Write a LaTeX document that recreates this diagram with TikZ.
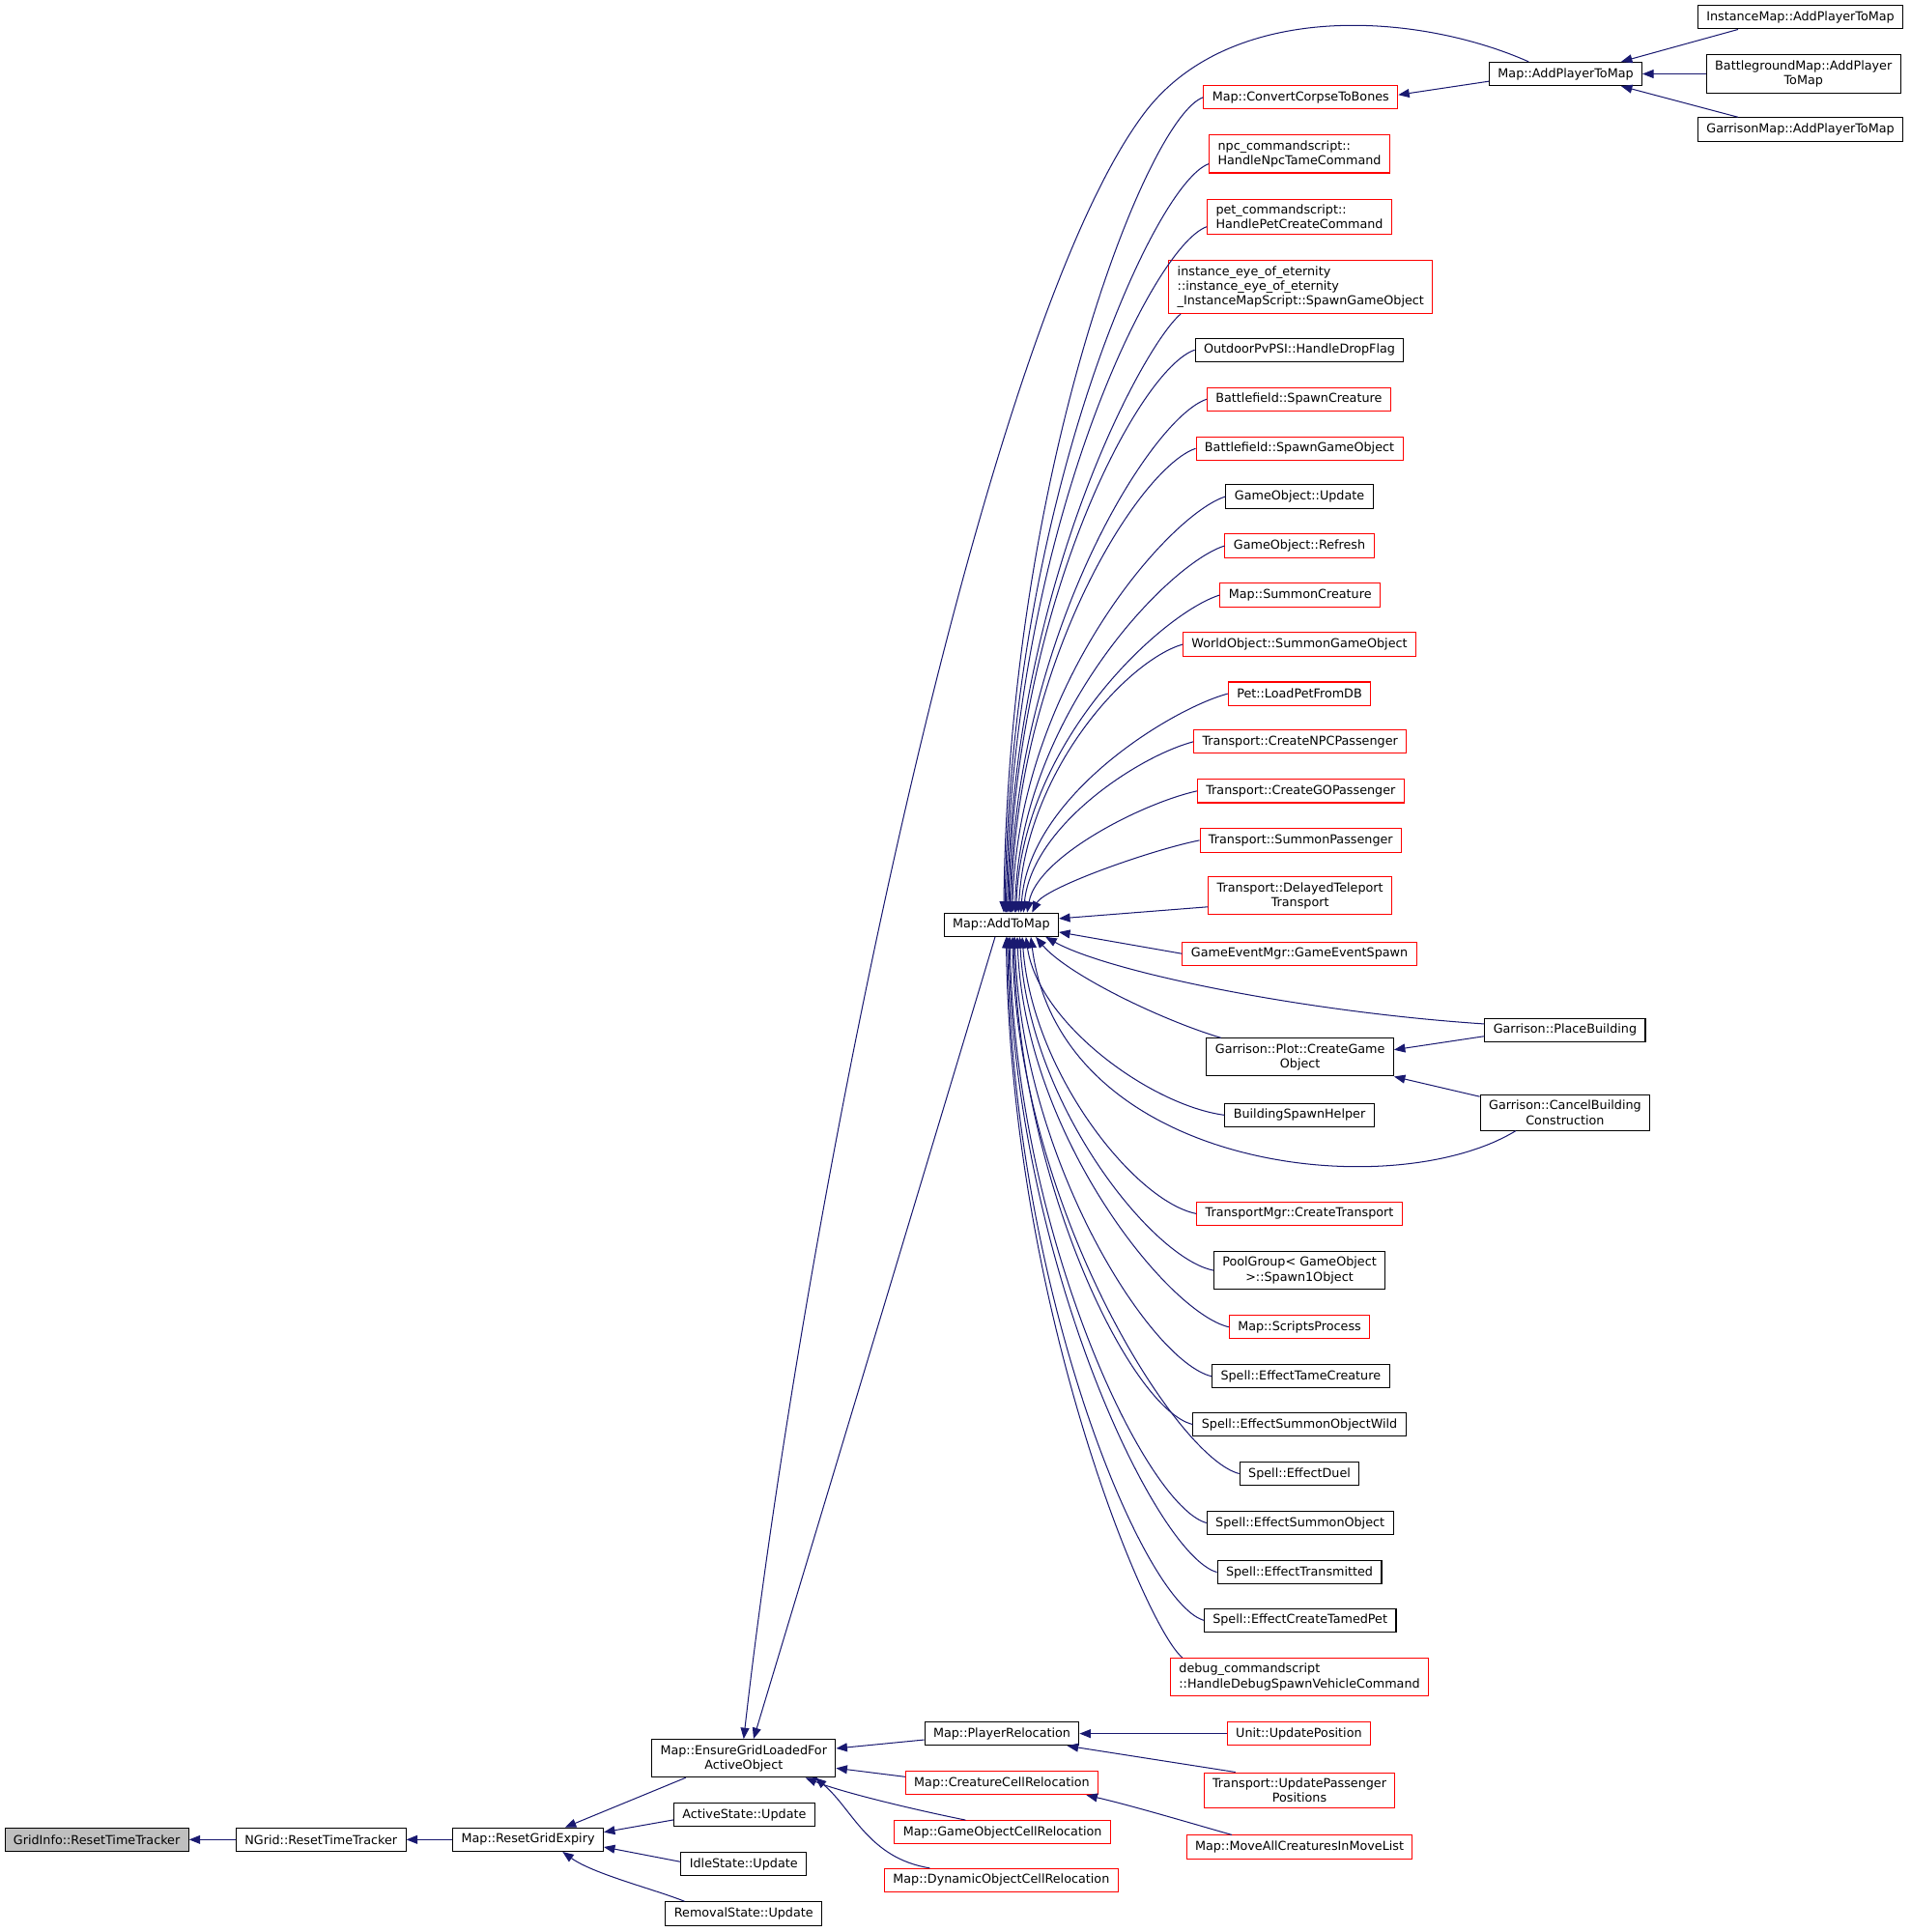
\documentclass[tikz,border=0pt]{standalone}
\usepackage{fontspec}
\setmainfont{DejaVu Sans}
\usetikzlibrary{arrows.meta}
\definecolor{edgecol}{HTML}{191970}
\definecolor{redc}{HTML}{FF0000}
\definecolor{grayfill}{HTML}{BFBFBF}
\begin{document}
\begin{tikzpicture}[x=1pt,y=1pt,
  box/.style={draw=black, line width=0.8pt, fill=white, inner xsep=7pt, inner ysep=4.5pt,
    minimum height=19pt, font=\fontsize{10}{12}\selectfont, align=center},
  rbox/.style={box, draw=redc},
  lft/.style={align=left},
  e/.style={draw=edgecol, line width=0.8pt, {Triangle[length=9pt,width=7pt]}-}]
\useasboundingbox (0,0) rectangle (1550,-1568);

% left chain
\node[box, fill=grayfill] (gridinfo) at (78.5,-1493) {GridInfo::ResetTimeTracker};
\node[box] (ngrid) at (260.5,-1493) {NGrid::ResetTimeTracker};
\node[box] (reset) at (428.5,-1493) {Map::ResetGridExpiry};
\node[box] (ensure) at (603.5,-1427) {Map::EnsureGridLoadedFor\\ActiveObject};
\node[box] (active) at (604,-1473) {ActiveState::Update};
\node[box] (idle) at (603.5,-1513) {IdleState::Update};
\node[box] (removal) at (603.5,-1553) {RemovalState::Update};
% relocation
\node[box] (playerrel) at (813,-1407) {Map::PlayerRelocation};
\node[rbox] (creaturecell) at (813,-1447) {Map::CreatureCellRelocation};
\node[rbox] (gocell) at (813.5,-1487) {Map::GameObjectCellRelocation};
\node[rbox] (dyncell) at (812.5,-1526) {Map::DynamicObjectCellRelocation};
\node[rbox] (unitupd) at (1054,-1407) {Unit::UpdatePosition};
\node[rbox] (upp) at (1054.5,-1453) {Transport::UpdatePassenger\\Positions};
\node[rbox] (moveall) at (1054.5,-1499) {Map::MoveAllCreaturesInMoveList};
% hub
\node[box] (atm) at (812.5,-750.5) {Map::AddToMap};
% far right
\node[box] (apm) at (1270.5,-60) {Map::AddPlayerToMap};
\node[box] (instmap) at (1461,-14) {InstanceMap::AddPlayerToMap};
\node[box] (bgmap) at (1463.5,-60) {BattlegroundMap::AddPlayer\\ToMap};
\node[box] (garmap) at (1461,-105) {GarrisonMap::AddPlayerToMap};
\node[box] (place) at (1270,-836) {Garrison::PlaceBuilding};
\node[box] (cancel) at (1270,-903) {Garrison::CancelBuilding\\Construction};
% right column
\node[rbox] (convert) at (1055.5,-79) {Map::ConvertCorpseToBones};
\node[rbox, lft] (npc) at (1054.5,-125) {npc\_commandscript::\\HandleNpcTameCommand};
\node[rbox, lft] (pet) at (1054.5,-176) {pet\_commandscript::\\HandlePetCreateCommand};
\node[rbox, lft] (eye) at (1055.5,-233) {instance\_eye\_of\_eternity\\::instance\_eye\_of\_eternity\\\_InstanceMapScript::SpawnGameObject};
\node[box] (outdoor) at (1054.5,-284) {OutdoorPvPSI::HandleDropFlag};
\node[rbox] (bfcreature) at (1054,-324) {Battlefield::SpawnCreature};
\node[rbox] (bfgo) at (1054.5,-364) {Battlefield::SpawnGameObject};
\node[box] (goupdate) at (1054.5,-403) {GameObject::Update};
\node[rbox] (gorefresh) at (1054.5,-443) {GameObject::Refresh};
\node[rbox] (summoncr) at (1055,-483) {Map::SummonCreature};
\node[rbox] (worldobj) at (1054.5,-523) {WorldObject::SummonGameObject};
\node[rbox] (petload) at (1054.5,-563) {Pet::LoadPetFromDB};
\node[rbox] (npcpass) at (1055,-602) {Transport::CreateNPCPassenger};
\node[rbox] (gopass) at (1055.5,-642) {Transport::CreateGOPassenger};
\node[rbox] (sumpass) at (1055.5,-682) {Transport::SummonPassenger};
\node[rbox] (delayed) at (1055,-727) {Transport::DelayedTeleport\\Transport};
\node[rbox] (gameevent) at (1054.5,-774) {GameEventMgr::GameEventSpawn};
\node[box] (plot) at (1055,-858) {Garrison::Plot::CreateGame\\Object};
\node[box] (bsh) at (1054.5,-905) {BuildingSpawnHelper};
\node[rbox] (tmgr) at (1054.5,-985) {TransportMgr::CreateTransport};
\node[box] (pool) at (1054.5,-1031) {PoolGroup< GameObject\\ >::Spawn1Object};
\node[rbox] (scripts) at (1054.5,-1077) {Map::ScriptsProcess};
\node[box] (tame) at (1055.5,-1117) {Spell::EffectTameCreature};
\node[box] (wild) at (1054.5,-1156) {Spell::EffectSummonObjectWild};
\node[box] (duel) at (1054.5,-1196) {Spell::EffectDuel};
\node[box] (sumobj) at (1055,-1236) {Spell::EffectSummonObject};
\node[box] (transm) at (1054.5,-1276) {Spell::EffectTransmitted};
\node[box] (tamedpet) at (1055,-1315) {Spell::EffectCreateTamedPet};
\node[rbox, lft] (debug) at (1054.5,-1361) {debug\_commandscript\\::HandleDebugSpawnVehicleCommand};

% left chain edges
\draw[e] (gridinfo.east) -- (ngrid.west);
\draw[e] (ngrid.east) -- (reset.west);
\draw[e] ([xshift=30]reset.north) -- ([xshift=-47]ensure.south);
\draw[e] ([yshift=6]reset.east) -- ([yshift=-4]active.west);
\draw[e] ([yshift=-6]reset.east) -- ([yshift=2]idle.west);
\draw[e] ([xshift=28]reset.south) .. controls +(25,-18) and +(-25,10) .. ([xshift=-48]removal.north);

% relocation edges
\draw[e] ([yshift=8]ensure.east) -- ([yshift=-5]playerrel.west);
\draw[e] ([yshift=-8]ensure.east) -- ([yshift=5]creaturecell.west);
\draw[e] ([xshift=50]ensure.south) .. controls +(30,-12) and +(-40,8) .. ([xshift=-30]gocell.north);
\draw[e] ([xshift=58]ensure.south) .. controls +(30,-25) and +(-50,8) .. ([xshift=-58]dyncell.north);
\draw[e] (playerrel.east) -- (unitupd.west);
\draw[e] ([xshift=-10]playerrel.south east) -- ([xshift=-52]upp.north);
\draw[e] ([xshift=-10]creaturecell.south east) .. controls +(35,-8) and +(-35,10) .. ([xshift=-55]moveall.north);

% hub to ensure
\draw[e] ([xshift=8]ensure.north) -- ([xshift=-5]atm.south);
\draw[e] (ensure.north) .. controls (650,-1000) and (795,-265) .. (930,-90)
  .. controls (1000,0) and (1150,-10) .. ([xshift=-30]apm.north);

% AddPlayerToMap edges
\draw[e] ([xshift=45]apm.north) -- ([xshift=33]instmap.south west);
\draw[e] (apm.east) -- (bgmap.west);
\draw[e] ([xshift=45]apm.south) -- ([xshift=33]garmap.north west);
\draw[e] ([yshift=2]convert.east) -- ([yshift=-6]apm.west);

% fan above hub
\draw[e] ([xshift=2]atm.north) .. controls +(4,360) and +(-45,-16) .. (convert.west);
\draw[e] ([xshift=3]atm.north) .. controls +(4,330) and +(-45,-16) .. ([yshift=-8]npc.west);
\draw[e] ([xshift=4]atm.north) .. controls +(4,305) and +(-45,-16) .. ([yshift=-8]pet.west);
\draw[e] ([xshift=5]atm.north) .. controls +(4,265) and +(-30,-25) .. ([xshift=10]eye.south west);
\draw[e] ([xshift=6]atm.north) .. controls +(4,250) and +(-45,-15) .. (outdoor.west);
\draw[e] ([xshift=7]atm.north) .. controls +(4,225) and +(-45,-15) .. (bfcreature.west);
\draw[e] ([xshift=8]atm.north) .. controls +(4,205) and +(-45,-15) .. (bfgo.west);
\draw[e] ([xshift=9]atm.north) .. controls +(5,185) and +(-45,-14) .. (goupdate.west);
\draw[e] ([xshift=11]atm.north) .. controls +(5,160) and +(-45,-14) .. (gorefresh.west);
\draw[e] ([xshift=12]atm.north) .. controls +(5,140) and +(-45,-14) .. (summoncr.west);
\draw[e] ([xshift=14]atm.north) .. controls +(6,115) and +(-45,-13) .. (worldobj.west);
\draw[e] ([xshift=16]atm.north) .. controls +(6,95) and +(-45,-12) .. (petload.west);
\draw[e] ([xshift=18]atm.north) .. controls +(7,70) and +(-45,-12) .. (npcpass.west);
\draw[e] ([xshift=21]atm.north) .. controls +(8,45) and +(-45,-10) .. (gopass.west);
\draw[e] ([xshift=25]atm.north) .. controls +(10,20) and +(-40,-8) .. (sumpass.west);
\draw[e] ([yshift=5]atm.east) -- ([yshift=-9]delayed.west);
\draw[e] ([yshift=-6]atm.east) -- (gameevent.west);

% fan below hub
\draw[e] ([xshift=36]atm.south) .. controls +(50,-28) and +(-150,10) .. ([yshift=5]place.west);
\draw[e] ([xshift=28]atm.south) .. controls +(25,-30) and +(-50,15) .. ([xshift=12]plot.north west);
\draw[e] ([xshift=20]atm.south) .. controls +(10,-70) and +(-60,8) .. (bsh.west);
\draw[e] ([xshift=24]atm.south) .. controls +(24,-190) and +(-100,-61) .. ([xshift=-40]cancel.south);
\draw[e] ([xshift=17]atm.south) .. controls +(8,-110) and +(-50,10) .. (tmgr.west);
\draw[e] ([xshift=15]atm.south) .. controls +(7,-135) and +(-50,10) .. (pool.west);
\draw[e] ([xshift=13]atm.south) .. controls +(6,-160) and +(-50,12) .. (scripts.west);
\draw[e] ([xshift=11]atm.south) .. controls +(5,-180) and +(-50,12) .. (tame.west);
\draw[e] ([xshift=10]atm.south) .. controls +(5,-200) and +(-50,12) .. (wild.west);
\draw[e] ([xshift=9]atm.south) .. controls +(4,-220) and +(-50,12) .. (duel.west);
\draw[e] ([xshift=7]atm.south) .. controls +(4,-240) and +(-50,14) .. (sumobj.west);
\draw[e] ([xshift=6]atm.south) .. controls +(4,-260) and +(-50,14) .. (transm.west);
\draw[e] ([xshift=5]atm.south) .. controls +(4,-285) and +(-50,15) .. (tamedpet.west);
\draw[e] ([xshift=4]atm.south) .. controls +(4,-300) and +(-30,25) .. ([xshift=10]debug.north west);

% garrison
\draw[e] ([yshift=6]plot.east) -- ([yshift=-5]place.west);
\draw[e] (plot.south east) -- ([yshift=13]cancel.west);
\end{tikzpicture}
\end{document}
